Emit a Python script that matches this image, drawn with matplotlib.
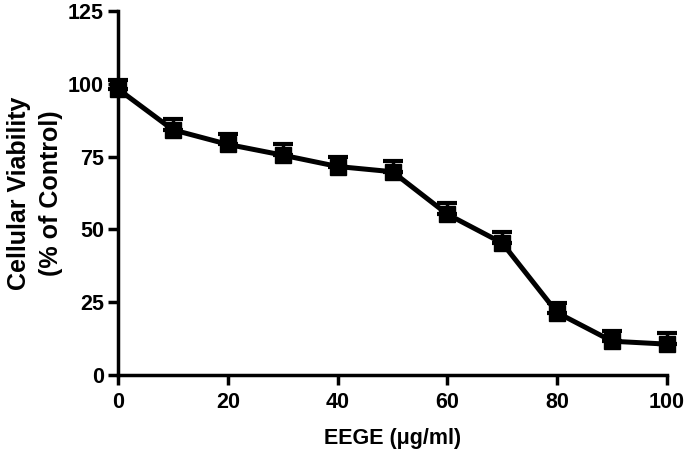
import matplotlib
matplotlib.use("Agg")
import matplotlib.pyplot as plt

# =========================================================
# DATA
# =========================================================

concentration = [0, 10, 20, 30, 40, 50, 60, 70, 80, 90, 100]
viability = [98.2, 84.2, 79.2, 75.5, 71.6, 69.8, 55.2, 45.3, 21.4, 11.6, 10.6]
sem = [3.0, 3.6, 3.6, 3.8, 3.4, 3.6, 4.0, 3.8, 3.2, 3.5, 3.7]

x_ticks = [0, 20, 40, 60, 80, 100]
y_ticks = [0, 25, 50, 75, 100, 125]

# =========================================================
# PLOT
# =========================================================

plt.rcParams["font.family"] = ["Liberation Sans", "DejaVu Sans"]
plt.rcParams["font.weight"] = "bold"

fig = plt.figure(figsize=(6.85, 4.49), dpi=100)
ax = fig.add_axes([118 / 685, 1 - 375 / 449, 549 / 685, 364 / 449])

ax.errorbar(
    concentration,
    viability,
    yerr=[[0] * len(sem), sem],
    color="black",
    linewidth=3.6,
    marker="s",
    markersize=11.5,
    elinewidth=2.5,
    capsize=7,
    capthick=3,
    clip_on=False,
    zorder=3,
)

ax.set_xlim(0, 100)
ax.set_ylim(0, 125)
ax.set_xticks(x_ticks)
ax.set_yticks(y_ticks)

for side in ["top", "right"]:
    ax.spines[side].set_visible(False)
for side in ["left", "bottom"]:
    ax.spines[side].set_linewidth(2.5)

ax.tick_params(axis="both", direction="out", length=7, width=2.5,
               labelsize=15.5)
ax.tick_params(axis="x", pad=5)
ax.tick_params(axis="y", pad=3)
for lbl in ax.get_xticklabels() + ax.get_yticklabels():
    lbl.set_fontweight("bold")

ax.set_xlabel("EEGE (μg/ml)", fontsize=15.5, fontweight="bold", labelpad=11)
ax.set_ylabel("Cellular Viability\n(% of Control)", fontsize=18,
              fontweight="bold", labelpad=4, linespacing=1.4)

fig.savefig("out.png", dpi=100)
